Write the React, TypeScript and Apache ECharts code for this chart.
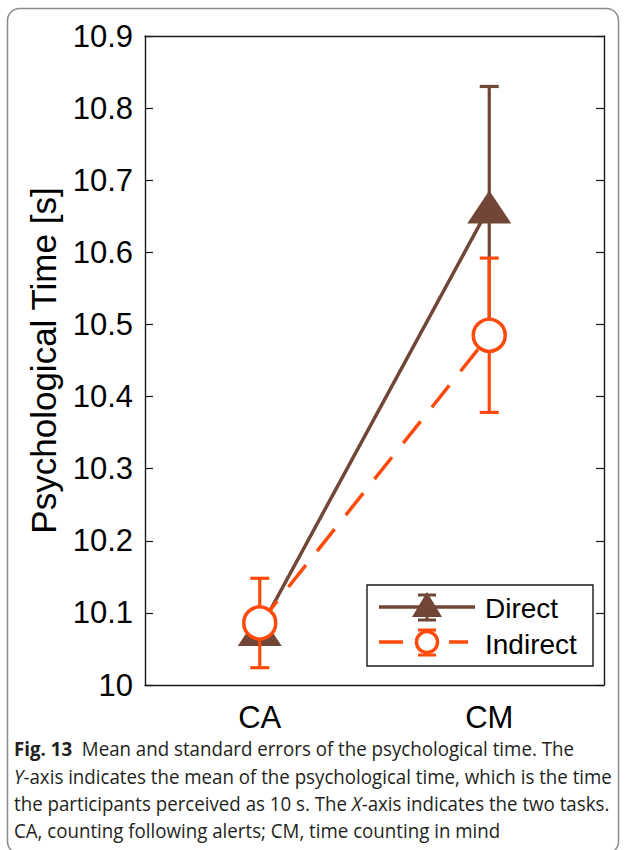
import React, { useEffect, useRef } from "react";
import * as echarts from "echarts";

const categories = ["CA", "CM"];
const directMean = [10.077, 10.663];
const directErr = [0.02, 0.167];
const indirectMean = [10.086, 10.485];
const indirectErr = [0.062, 0.107];
const seriesNames = ["Direct", "Indirect"];
const yMin = 10;
const yMax = 10.9;
const yStep = 0.1;
const yAxisName = "Psychological Time [s]";
const captionLines = [
  "{b|Fig. 13}  Mean and standard errors of the psychological time. The",
  "{i|Y}-axis indicates the mean of the psychological time, which is the time",
  "the participants perceived as 10 s. The {i|X}-axis indicates the two tasks.",
  "CA, counting following alerts; CM, time counting in mind",
];

const BROWN = "#714636";
const ORANGE = "#FF4A0A";
const AXIS = "#1a1a1a";
const FONT = "Liberation Sans, Arial, sans-serif";

function errRender(color: string) {
  return (params: any, api: any) => {
    const i = api.value(0);
    const m = api.value(1);
    const e = api.value(2);
    const top = api.coord([i, m + e]);
    const bot = api.coord([i, m - e]);
    const hw = 9.5;
    const st = { stroke: color, lineWidth: 3.2 };
    return {
      type: "group",
      children: [
        { type: "line", shape: { x1: top[0], y1: top[1], x2: bot[0], y2: bot[1] }, style: st },
        { type: "line", shape: { x1: top[0] - hw, y1: top[1], x2: top[0] + hw, y2: top[1] }, style: st },
        { type: "line", shape: { x1: bot[0] - hw, y1: bot[1], x2: bot[0] + hw, y2: bot[1] }, style: st },
      ],
    };
  };
}

export default function App() {
  const ref = useRef<HTMLDivElement>(null);
  useEffect(() => {
    const chart = echarts.init(ref.current!, null, { renderer: "svg" });
    const fmt = (v: number) => String(Number(v.toFixed(1)));
    const capY = [748, 776, 803, 830];
    const CAPFONT = "Open Sans, sans-serif";
    const option: any = {
      animation: false,
      backgroundColor: "#fff",
      grid: { left: 145, top: 36, width: 459, height: 649, containLabel: false },
      xAxis: [
        {
          type: "category",
          data: categories,
          boundaryGap: true,
          axisLine: { lineStyle: { color: AXIS, width: 1.4 } },
          axisTick: { inside: true, alignWithLabel: true, length: 8, lineStyle: { color: AXIS, width: 1.2 } },
          axisLabel: { color: "#000", fontSize: 31, fontFamily: FONT, margin: 17 },
          splitLine: { show: false },
        },
        {
          type: "category",
          data: categories,
          position: "top",
          boundaryGap: true,
          axisLine: { lineStyle: { color: AXIS, width: 1.4 } },
          axisTick: { inside: true, alignWithLabel: true, length: 8, lineStyle: { color: AXIS, width: 1.2 } },
          axisLabel: { show: false },
          splitLine: { show: false },
        },
      ],
      yAxis: [
        {
          type: "value",
          min: yMin,
          max: yMax,
          interval: yStep,
          name: yAxisName,
          nameLocation: "middle",
          nameRotate: 90,
          nameGap: 84,
          nameTextStyle: { color: "#000", fontSize: 35, fontFamily: FONT },
          axisLine: { show: true, lineStyle: { color: AXIS, width: 1.4 } },
          axisTick: { show: true, inside: true, length: 8, lineStyle: { color: AXIS, width: 1.2 } },
          axisLabel: { color: "#000", fontSize: 31, fontFamily: FONT, margin: 12, formatter: fmt },
          splitLine: { show: false },
        },
        {
          type: "value",
          min: yMin,
          max: yMax,
          interval: yStep,
          position: "right",
          axisLine: { show: true, lineStyle: { color: AXIS, width: 1.4 } },
          axisTick: { show: true, inside: true, length: 8, lineStyle: { color: AXIS, width: 1.2 } },
          axisLabel: { show: false },
          splitLine: { show: false },
        },
      ],
      series: [
        {
          type: "custom",
          name: seriesNames[0] + " error",
          renderItem: errRender(BROWN),
          encode: { x: 0, y: 1 },
          data: categories.map((c, i) => [i, directMean[i], directErr[i]]),
          z: 2,
        },
        {
          type: "line",
          name: seriesNames[0],
          data: directMean,
          symbol: "triangle",
          symbolSize: [44, 33],
          itemStyle: { color: BROWN },
          lineStyle: { color: BROWN, width: 3.5 },
          z: 3,
        },
        {
          type: "custom",
          name: seriesNames[1] + " error",
          renderItem: errRender(ORANGE),
          encode: { x: 0, y: 1 },
          data: categories.map((c, i) => [i, indirectMean[i], indirectErr[i]]),
          z: 4,
        },
        {
          type: "line",
          name: seriesNames[1],
          data: indirectMean,
          symbol: "circle",
          symbolSize: 32,
          itemStyle: { color: "#fff", borderColor: ORANGE, borderWidth: 3.5 },
          lineStyle: { color: ORANGE, width: 3.5, type: [28, 18] },
          z: 5,
        },
      ],
      graphic: [
        {
          type: "rect",
          shape: { x: 7.5, y: 8.5, width: 611, height: 845, r: 12 },
          style: { fill: "none", stroke: "#8a8a8a", lineWidth: 1.5 },
          silent: true,
          z: 1,
        },
        {
          type: "rect",
          shape: { x: 367, y: 585, width: 226, height: 81 },
          style: { fill: "#fff", stroke: AXIS, lineWidth: 1.4 },
          z: 20,
        },
        { type: "line", shape: { x1: 379, y1: 607, x2: 475, y2: 607 }, style: { stroke: BROWN, lineWidth: 3.5 }, z: 21 },
        { type: "line", shape: { x1: 427, y1: 595, x2: 427, y2: 620 }, style: { stroke: BROWN, lineWidth: 3 }, z: 21 },
        { type: "line", shape: { x1: 418, y1: 595, x2: 436, y2: 595 }, style: { stroke: BROWN, lineWidth: 3 }, z: 21 },
        { type: "line", shape: { x1: 418, y1: 620, x2: 436, y2: 620 }, style: { stroke: BROWN, lineWidth: 3 }, z: 21 },
        {
          type: "polygon",
          shape: { points: [[427, 592], [412, 617], [442, 617]] },
          style: { fill: BROWN },
          z: 22,
        },
        { type: "line", shape: { x1: 379, y1: 642, x2: 403, y2: 642 }, style: { stroke: ORANGE, lineWidth: 3.5 }, z: 21 },
        { type: "line", shape: { x1: 449, y1: 642, x2: 468, y2: 642 }, style: { stroke: ORANGE, lineWidth: 3.5 }, z: 21 },
        { type: "line", shape: { x1: 427, y1: 630, x2: 427, y2: 655 }, style: { stroke: ORANGE, lineWidth: 3 }, z: 21 },
        { type: "line", shape: { x1: 418, y1: 630, x2: 436, y2: 630 }, style: { stroke: ORANGE, lineWidth: 3 }, z: 21 },
        { type: "line", shape: { x1: 418, y1: 655, x2: 436, y2: 655 }, style: { stroke: ORANGE, lineWidth: 3 }, z: 21 },
        {
          type: "circle",
          shape: { cx: 427, cy: 642, r: 10.5 },
          style: { fill: "#fff", stroke: ORANGE, lineWidth: 3.5 },
          z: 22,
        },
        {
          type: "text",
          x: 485,
          y: 608,
          style: { text: seriesNames[0], fill: "#000", font: `28px ${FONT}`, verticalAlign: "middle" },
          z: 22,
        },
        {
          type: "text",
          x: 485,
          y: 644,
          style: { text: seriesNames[1], fill: "#000", font: `28px ${FONT}`, verticalAlign: "middle" },
          z: 22,
        },
        ...captionLines.map((t, k) => ({
          type: "text",
          x: 14,
          y: capY[k],
          scaleX: 0.935,
          style: {
            text: t,
            fill: "#231f20",
            fontSize: 20,
            fontFamily: CAPFONT,
            verticalAlign: "middle",
            rich: {
              b: { fontSize: 20, fontWeight: "bold", fontFamily: CAPFONT, fill: "#231f20" },
              i: { fontSize: 20, fontStyle: "italic", fontFamily: CAPFONT, fill: "#231f20" },
            },
          },
          z: 10,
        })),
      ],
    };
    chart.setOption(option);
    return () => chart.dispose();
  }, []);
  return (
    <div
      ref={ref}
      style={{ position: "absolute", left: 0, top: 0, width: 626, height: 850 }}
    />
  );
}
